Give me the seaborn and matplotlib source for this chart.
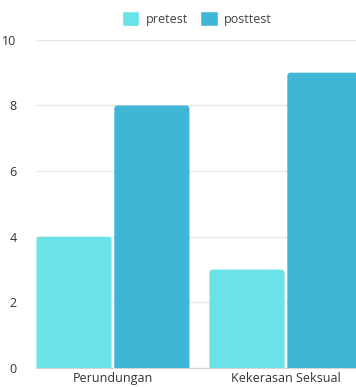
import pandas as pd
import matplotlib
matplotlib.use("Agg")
import matplotlib.pyplot as plt
import seaborn as sns
from matplotlib.patches import FancyBboxPatch

categories = ["Perundungan", "Kekerasan Seksual"]
pretest = [4, 3]
posttest = [8, 9]
series = ["pretest", "posttest"]

df = pd.DataFrame({
    "kategori": categories * 2,
    "skor": pretest + posttest,
    "tes": ["pretest"] * len(categories) + ["posttest"] * len(categories),
})

sns.set_style("white")
plt.rcParams["font.family"] = ["Open Sans", "DejaVu Sans"]

colors = {"pretest": "#6ae3e8", "posttest": "#40b6d6"}

fig = plt.figure(figsize=(3.56, 3.87), dpi=100)
ax = fig.add_axes([0.101, 0.049, 0.899, 0.848])

sns.barplot(data=df, x="kategori", y="skor", hue="tes", hue_order=series,
            palette=colors, saturation=1, width=0.9, gap=0.035, ax=ax,
            legend=False, edgecolor="none", zorder=3)

# swap the plain bars for ones with slightly rounded top corners
# (bottom corners sit below the axis and get clipped)
for p in list(ax.patches):
    x, y = p.get_x(), p.get_y()
    w, h = p.get_width(), p.get_height()
    fc = p.get_facecolor()
    p.remove()
    r = 0.018
    asp = 6
    ax.add_patch(FancyBboxPatch((x + r, y - 1), w - 2 * r, h + 1 - r * asp,
                                boxstyle=f"round,pad={r}",
                                mutation_aspect=asp,
                                facecolor=fc, edgecolor="none", zorder=3))

ax.set_xlim(-0.445, 1.405)
ax.set_ylim(0, 10)
ax.set_yticks([0, 2, 4, 6, 8, 10])
ax.yaxis.grid(True, color="#e6e6e6", linewidth=1, zorder=0)
ax.set_xlabel("")
ax.set_ylabel("")
for s in ["top", "right", "left"]:
    ax.spines[s].set_visible(False)
ax.spines["bottom"].set_color("#d4d4d4")
ax.tick_params(axis="both", length=0, labelsize=9, colors="#333333")
ax.tick_params(axis="y", pad=14)
ax.tick_params(axis="x", pad=3)

handles = [plt.Rectangle((0, 0), 1, 1, facecolor=colors[s]) for s in series]
fig.legend(handles, series, loc="upper center", bbox_to_anchor=(0.553, 1.0),
           ncol=2, frameon=False, fontsize=9, handlelength=1.4,
           handleheight=1.4, columnspacing=1.0, handletextpad=0.5,
           labelcolor="#444444")

fig.savefig("out.png", dpi=100)
